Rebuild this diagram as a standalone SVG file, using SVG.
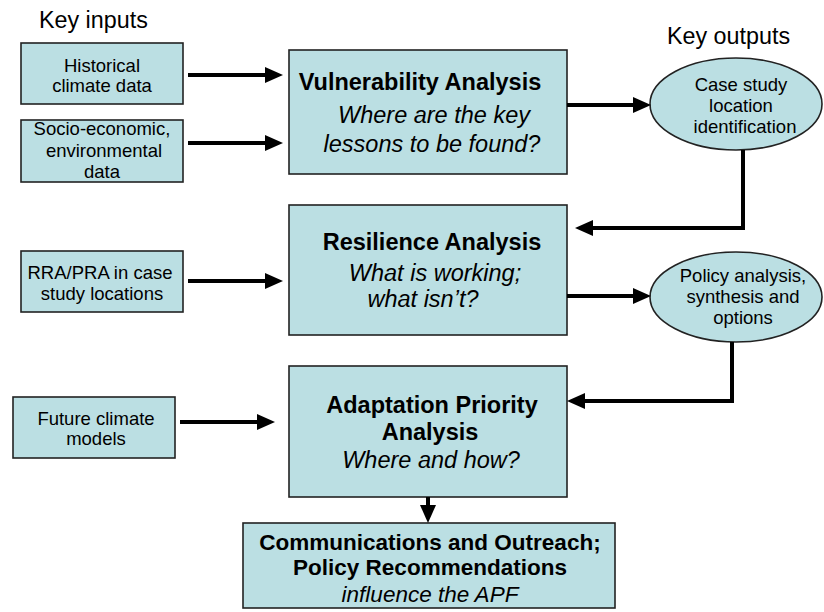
<svg xmlns="http://www.w3.org/2000/svg" width="824" height="612" viewBox="0 0 824 612">
<defs>
<marker id="ah" markerUnits="userSpaceOnUse" viewBox="0 0 18 16" markerWidth="18" markerHeight="16" refX="1" refY="8" orient="auto">
<path d="M0,0 L18,8 L0,16 z" fill="#000"/>
</marker>
<style>
.box{fill:#BBDFE3;stroke:#222;stroke-width:1.6}
.t{font-family:"Liberation Sans",Arial,sans-serif;fill:#000;text-anchor:middle}
.s{font-size:18.5px}
.b{font-size:23.5px;font-weight:bold}
.i{font-size:23.5px;font-style:italic}
.k{font-family:"Liberation Sans",Arial,sans-serif;font-size:23.3px;fill:#000}
.c{fill:none;stroke:#000;stroke-width:4;marker-end:url(#ah)}
</style>
</defs>
<rect width="824" height="612" fill="#fff"/>
<text class="k" x="39" y="28">Key inputs</text>
<text class="k" x="667" y="44">Key outputs</text>

<g id="historical">
<rect class="box" x="21" y="43" width="162" height="61"/>
<text class="t s"><tspan x="102" y="72">Historical</tspan><tspan x="102" y="92">climate data</tspan></text>
</g>
<g id="socio">
<rect class="box" x="21" y="120" width="162" height="62"/>
<text class="t s"><tspan x="102" y="135">Socio-economic,</tspan><tspan x="104" y="157">environmental</tspan><tspan x="102" y="178">data</tspan></text>
</g>
<g id="rra">
<rect class="box" x="21" y="251" width="162" height="61"/>
<text class="t s"><tspan x="100" y="279">RRA/PRA in case</tspan><tspan x="102" y="300">study locations</tspan></text>
</g>
<g id="future">
<rect class="box" x="13" y="397" width="162" height="61"/>
<text class="t s"><tspan x="96" y="425">Future climate</tspan><tspan x="96" y="445">models</tspan></text>
</g>

<g id="vulnerability">
<rect class="box" x="289" y="50" width="278" height="124"/>
<text class="t b" x="420" y="90">Vulnerability Analysis</text>
<text class="t i"><tspan x="434" y="123">Where are the key</tspan><tspan x="432" y="152">lessons to be found?</tspan></text>
</g>
<g id="resilience">
<rect class="box" x="289" y="205" width="278" height="130"/>
<text class="t b" x="432" y="250">Resilience Analysis</text>
<text class="t i"><tspan x="435" y="281">What is working;</tspan><tspan x="423" y="307">what isn’t?</tspan></text>
</g>
<g id="adaptation">
<rect class="box" x="289" y="366" width="278" height="131"/>
<text class="t b"><tspan x="432" y="413">Adaptation Priority</tspan><tspan x="430" y="440">Analysis</tspan></text>
<text class="t i" x="431" y="468">Where and how?</text>
</g>
<g id="communications">
<rect class="box" x="243" y="523" width="372" height="85"/>
<text class="t b" style="font-size:22.5px"><tspan x="430" y="550">Communications and Outreach;</tspan><tspan x="430" y="575">Policy Recommendations</tspan></text>
<text class="t i" style="font-size:22.5px" x="430" y="602">influence the APF</text>
</g>

<g id="case-study">
<ellipse class="box" cx="736" cy="104" rx="86" ry="46"/>
<text class="t s"><tspan x="741" y="91">Case study</tspan><tspan x="741" y="112">location</tspan><tspan x="745" y="133">identification</tspan></text>
</g>
<g id="policy-analysis">
<ellipse class="box" cx="736" cy="297" rx="86" ry="45"/>
<text class="t s"><tspan x="743" y="282">Policy analysis,</tspan><tspan x="743" y="303">synthesis and</tspan><tspan x="743" y="324">options</tspan></text>
</g>

<g id="connectors">
<path class="c" d="M188,75 H266"/>
<path class="c" d="M188,143 H266"/>
<path class="c" d="M567,105 H634"/>
<path class="c" d="M743,150 V228 H592"/>
<path class="c" d="M188,281 H266"/>
<path class="c" d="M567,296 H634"/>
<path class="c" d="M732,342 V401 H584"/>
<path class="c" d="M180,422 H258"/>
<path class="c" d="M428,497 V506"/>
</g>
</svg>
